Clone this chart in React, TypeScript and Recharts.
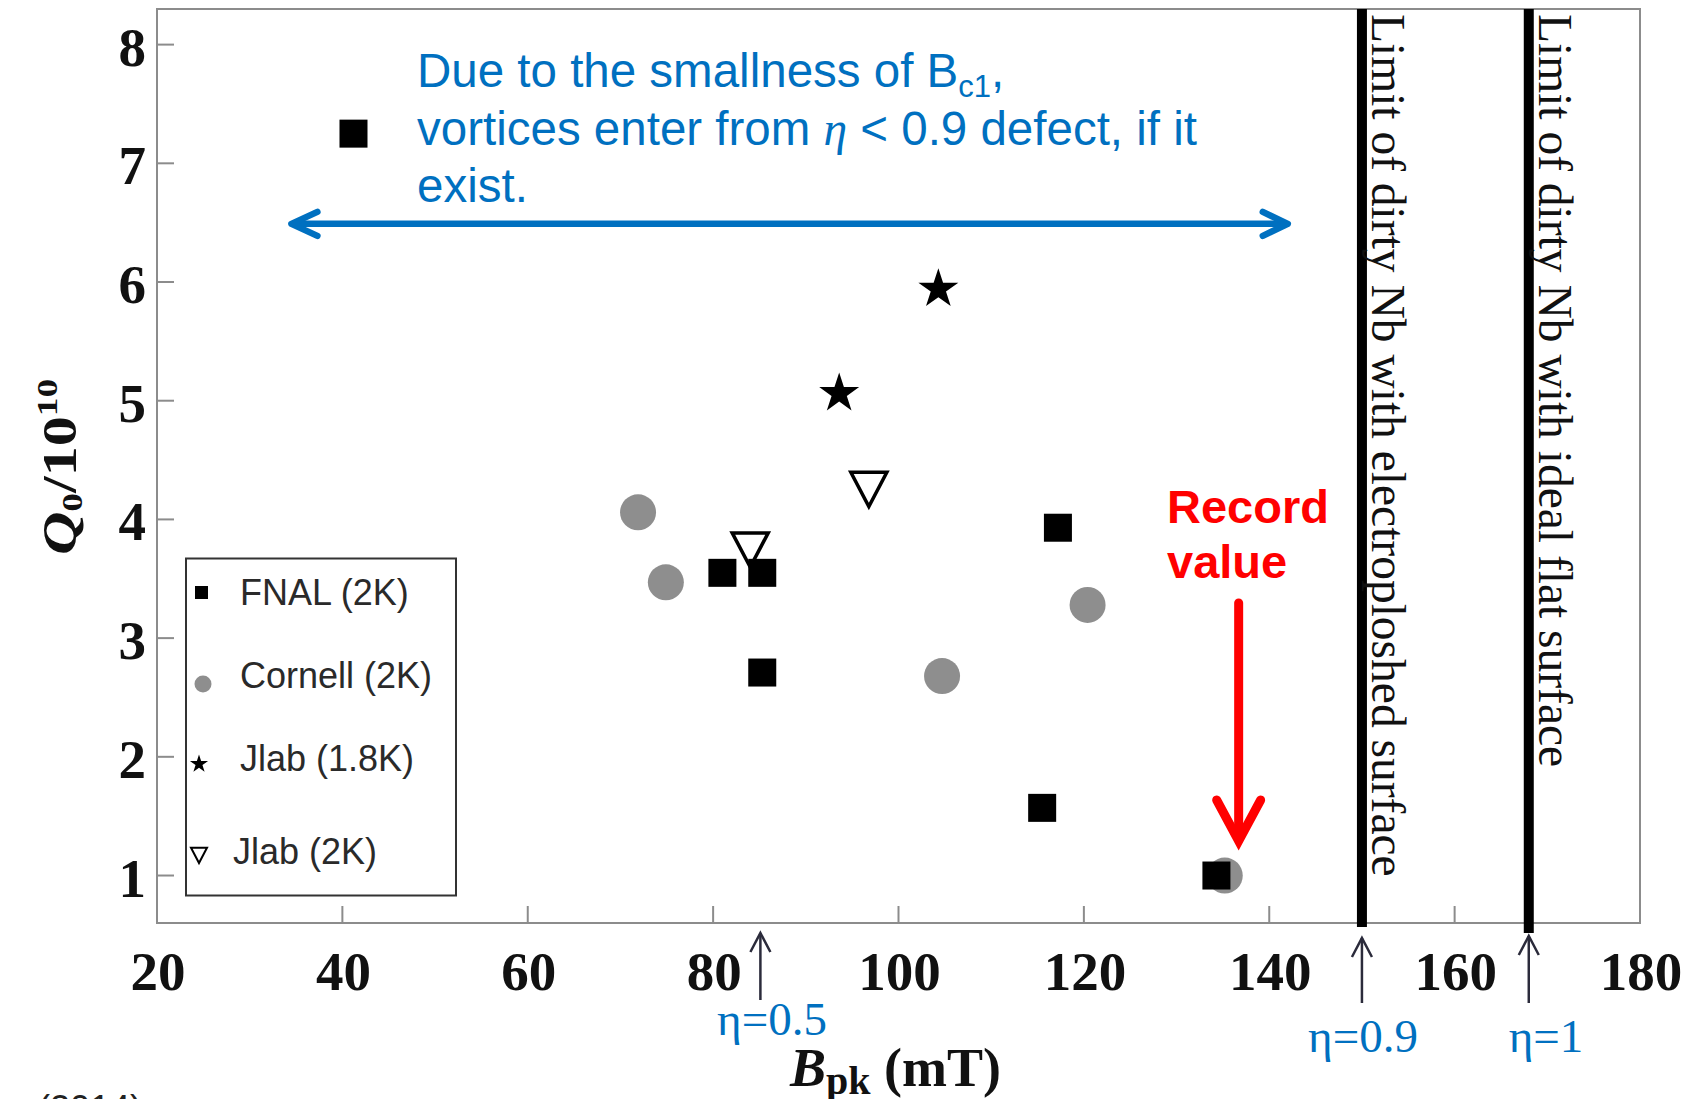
import React from 'react';
import { ScatterChart, Scatter, XAxis, YAxis, ReferenceLine, ReferenceArea } from 'recharts';

// ---------- data ----------
const xTicks = [20, 40, 60, 80, 100, 120, 140, 160, 180];
const yTicks = [1, 2, 3, 4, 5, 6, 7, 8];

const fnal = [
  { x: 41.2, y: 7.25 },
  { x: 81.0, y: 3.55 },
  { x: 85.3, y: 3.55 },
  { x: 85.3, y: 2.71 },
  { x: 117.2, y: 3.93 },
  { x: 115.5, y: 1.57 },
  { x: 134.3, y: 1.0 },
];
const cornell = [
  { x: 71.9, y: 4.06 },
  { x: 74.9, y: 3.47 },
  { x: 104.7, y: 2.68 },
  { x: 120.4, y: 3.28 },
  { x: 135.2, y: 1.0 },
];
const jlab18 = [
  { x: 104.3, y: 5.94 },
  { x: 93.6, y: 5.06 },
];
const jlab2 = [
  { x: 96.8, y: 4.26 },
  { x: 84.0, y: 3.75 },
];

const legendNames = ['FNAL (2K)', 'Cornell (2K)', 'Jlab (1.8K)', 'Jlab (2K)'];

const limitLines = [
  { x: 150, bottom: 0.566, label: 'Limit of dirty Nb with electroploshed surface' },
  { x: 168, bottom: 0.516, label: 'Limit of dirty Nb with ideal flat surface' },
];
const etaMarks = [
  { x: 85.1, text: 'η=0.5' },
  { x: 150, text: 'η=0.9' },
  { x: 168, text: 'η=1' },
];
const blueArrow = { x1: 34.5, x2: 142.0, y: 6.49 };
const recordArrowX = 136.7;

// ---------- layout ----------
const W = 1694;
const H = 1099;
const PL = 157;
const PR = 1640;
const PT = 9;
const PB = 923;
const X_DOMAIN: [number, number] = [20, 180];
const Y_DOMAIN: [number, number] = [0.6, 8.3];
const sx = (v: number) => PL + ((v - X_DOMAIN[0]) / (X_DOMAIN[1] - X_DOMAIN[0])) * (PR - PL);
const sy = (v: number) => PB - ((v - Y_DOMAIN[0]) / (Y_DOMAIN[1] - Y_DOMAIN[0])) * (PB - PT);

const SERIF = '"Liberation Serif", "Times New Roman", serif';
const SANS = '"Liberation Sans", Arial, sans-serif';
const BLUE = '#0070C0';
const GREY = '#8e8e8e';
const FRAME = '#8c8c8c';

const starPath = (cx: number, cy: number, R: number) => {
  const r = R * 0.382;
  let d = '';
  for (let i = 0; i < 10; i++) {
    const rad = i % 2 === 0 ? R : r;
    const a = -Math.PI / 2 + (i * Math.PI) / 5;
    d += (i === 0 ? 'M' : 'L') + (cx + rad * Math.cos(a)).toFixed(2) + ',' + (cy + rad * Math.sin(a)).toFixed(2);
  }
  return d + 'Z';
};
const triPath = (cx: number, cy: number, s: number) =>
  `M${cx - s},${cy - s * 0.9} L${cx + s},${cy - s * 0.9} L${cx},${cy + s} Z`;

const SquareShape = (p: any) =>
  p.cx == null ? null : <rect x={p.cx - 14} y={p.cy - 14} width={28} height={28} fill="#000" />;
const CircleShape = (p: any) =>
  p.cx == null ? null : <circle cx={p.cx} cy={p.cy} r={18} fill={GREY} />;
const StarShape = (p: any) =>
  p.cx == null ? null : <path d={starPath(p.cx, p.cy, 21)} fill="#000" />;
const TriShape = (p: any) =>
  p.cx == null ? null : (
    <path d={triPath(p.cx, p.cy, 18)} fill="#fff" stroke="#000" strokeWidth={3.5} />
  );

const XTick = (p: any) => {
  const { x, y, payload } = p;
  return (
    <g>
      {payload.value !== 20 && payload.value !== 180 && (
        <line x1={x} y1={y} x2={x} y2={y - 17} stroke={FRAME} strokeWidth={2} />
      )}
      <text x={x + 1} y={y + 67} textAnchor="middle" fontFamily={SERIF} fontWeight="bold" fontSize={55} fill="#111">
        {payload.value}
      </text>
    </g>
  );
};
const YTick = (p: any) => {
  const { x, y, payload } = p;
  return (
    <g>
      <line x1={x} y1={y} x2={x + 17} y2={y} stroke={FRAME} strokeWidth={2} />
      <text x={x - 11} y={y + 21} textAnchor="end" fontFamily={SERIF} fontWeight="bold" fontSize={55} fill="#111">
        {payload.value}
      </text>
    </g>
  );
};

const Overlay = () => {
  const ay = sy(blueArrow.y);
  const ax1 = sx(blueArrow.x1);
  const ax2 = sx(blueArrow.x2);
  const rx = sx(recordArrowX);
  const etaTip = [933, 938, 936];
  const etaBottom = [1000, 1003, 1003];
  const etaLabel = [
    { cx: 772, y: 1035 },
    { cx: 1363, y: 1052 },
    { cx: 1546, y: 1052 },
  ];
  const legendRows = [
    { y: 593, ty: 605, tx: 240 },
    { y: 684, ty: 688, tx: 240 },
    { y: 763, ty: 771, tx: 240 },
    { y: 855, ty: 864, tx: 233 },
  ];
  return (
    <svg width={W} height={H} style={{ position: 'absolute', left: 0, top: 0, pointerEvents: 'none' }}>
      {/* limit line labels */}
      {limitLines.map((l) => (
        <text
          key={l.label}
          transform={`translate(${sx(l.x) + 10},14) rotate(90)`}
          fontFamily={SERIF}
          fontSize={47.5}
          fill="#111"
        >
          {l.label}
        </text>
      ))}

      {/* eta arrows and labels */}
      {etaMarks.map((e, i) => {
        const x = sx(e.x);
        const tip = etaTip[i];
        return (
          <g key={e.text}>
            <line x1={x} y1={etaBottom[i]} x2={x} y2={tip} stroke="#2b2b3b" strokeWidth={2.5} />
            <polyline
              points={`${x - 10},${tip + 19} ${x},${tip} ${x + 10},${tip + 19}`}
              fill="none"
              stroke="#2b2b3b"
              strokeWidth={2.5}
            />
            <text x={etaLabel[i].cx} y={etaLabel[i].y} textAnchor="middle" fontFamily={SERIF} fontSize={47} fill={BLUE}>
              {e.text}
            </text>
          </g>
        );
      })}

      {/* axis titles */}
      <text transform="translate(76,555) rotate(-90) scale(1.25,1)" fontFamily={SERIF} fontWeight="bold" fontSize={48} fill="#111">
        <tspan fontStyle="italic">Q</tspan>
        <tspan fontSize={30} dy={6}>0</tspan>
        <tspan dy={-6}>/10</tspan>
        <tspan fontSize={30} dy={-19}>10</tspan>
      </text>
      <text x={790} y={1086} fontFamily={SERIF} fontWeight="bold" fontSize={54} fill="#111">
        <tspan fontStyle="italic">B</tspan>
        <tspan fontSize={40} dy={8}>pk</tspan>
        <tspan dy={-8}>{'\u00A0(mT)'}</tspan>
      </text>

      {/* blue annotation */}
      <text x={417} y={87} fontFamily={SANS} fontSize={47.5} fill={BLUE}>
        Due to the smallness of B<tspan fontSize={31} dy={10}>c1</tspan>
        <tspan dy={-10}>,</tspan>
      </text>
      <text x={417} y={145} fontFamily={SANS} fontSize={47.5} fill={BLUE}>
        {'vortices enter from '}
        <tspan fontFamily={SERIF} fontStyle="italic">η</tspan>
        {' < 0.9 defect, if it'}
      </text>
      <text x={417} y={202} fontFamily={SANS} fontSize={47.5} fill={BLUE}>
        exist.
      </text>
      <g stroke={BLUE} strokeWidth={6.5} strokeLinecap="round" strokeLinejoin="round" fill="none">
        <line x1={ax1 + 3} y1={ay} x2={ax2 - 3} y2={ay} />
        <polyline points={`${ax1 + 26},${ay - 12} ${ax1},${ay} ${ax1 + 26},${ay + 12}`} />
        <polyline points={`${ax2 - 25},${ay - 12} ${ax2},${ay} ${ax2 - 25},${ay + 12}`} />
      </g>

      {/* record value */}
      <text x={1167} y={523} fontFamily={SANS} fontWeight="bold" fontSize={47} fill="#ff0000">
        Record
      </text>
      <text x={1167} y={578} fontFamily={SANS} fontWeight="bold" fontSize={47} fill="#ff0000">
        value
      </text>
      <g stroke="#ff0000" strokeWidth={9} fill="none" strokeLinecap="round">
        <line x1={rx} y1={603} x2={rx} y2={836} />
        <polyline points={`${rx - 22},${800} ${rx},${841} ${rx + 22},${800}`} strokeLinejoin="miter" />
      </g>

      {/* legend */}
      <rect x={186} y={558.5} width={270} height={337} fill="#fff" stroke="#333" strokeWidth={2} />
      <rect x={195} y={586} width={13} height={13} fill="#000" />
      <circle cx={203} cy={684} r={8.5} fill={GREY} />
      <path d={starPath(199, 764, 9.5)} fill="#000" />
      <path d={triPath(199, 855, 8)} fill="#fff" stroke="#000" strokeWidth={2} />
      {legendNames.map((n, i) => (
        <text key={n} x={legendRows[i].tx} y={legendRows[i].ty} fontFamily={SANS} fontSize={36} fill="#2a2a2a">
          {n}
        </text>
      ))}

      {/* cut-off citation */}
      <text x={38} y={1121} fontFamily={SANS} fontSize={36} fill="#222">
        (2014)
      </text>
    </svg>
  );
};

export default function App() {
  return (
    <div style={{ position: 'absolute', left: 0, top: 0, width: W, height: H, background: '#fff', overflow: 'hidden' }}>
      <ScatterChart width={W} height={H} margin={{ top: PT, right: W - PR, left: 0, bottom: 0 }}>
        <XAxis
          type="number"
          dataKey="x"
          domain={X_DOMAIN}
          ticks={xTicks}
          allowDataOverflow
          height={H - PB}
          tickSize={0}
          tickMargin={0}
          tickLine={false}
          axisLine={false}
          tick={<XTick />}
          interval={0}
        />
        <YAxis
          type="number"
          dataKey="y"
          domain={Y_DOMAIN}
          ticks={yTicks}
          allowDataOverflow
          width={PL}
          tickSize={0}
          tickMargin={0}
          tickLine={false}
          axisLine={false}
          tick={<YTick />}
          interval={0}
        />
        <ReferenceArea
          x1={X_DOMAIN[0]}
          x2={X_DOMAIN[1]}
          y1={Y_DOMAIN[0]}
          y2={Y_DOMAIN[1]}
          fill="none"
          fillOpacity={0}
          stroke={FRAME}
          strokeWidth={2}
          ifOverflow="visible"
        />
        {limitLines.map((l) => (
          <ReferenceLine
            key={l.x}
            segment={[
              { x: l.x, y: l.bottom },
              { x: l.x, y: Y_DOMAIN[1] },
            ]}
            stroke="#000"
            strokeWidth={10}
            ifOverflow="visible"
          />
        ))}
        <Scatter name="Cornell (2K)" data={cornell} shape={CircleShape} isAnimationActive={false} />
        <Scatter name="Jlab (2K)" data={jlab2} shape={TriShape} isAnimationActive={false} />
        <Scatter name="Jlab (1.8K)" data={jlab18} shape={StarShape} isAnimationActive={false} />
        <Scatter name="FNAL (2K)" data={fnal} shape={SquareShape} isAnimationActive={false} />
      </ScatterChart>
      <Overlay />
    </div>
  );
}
